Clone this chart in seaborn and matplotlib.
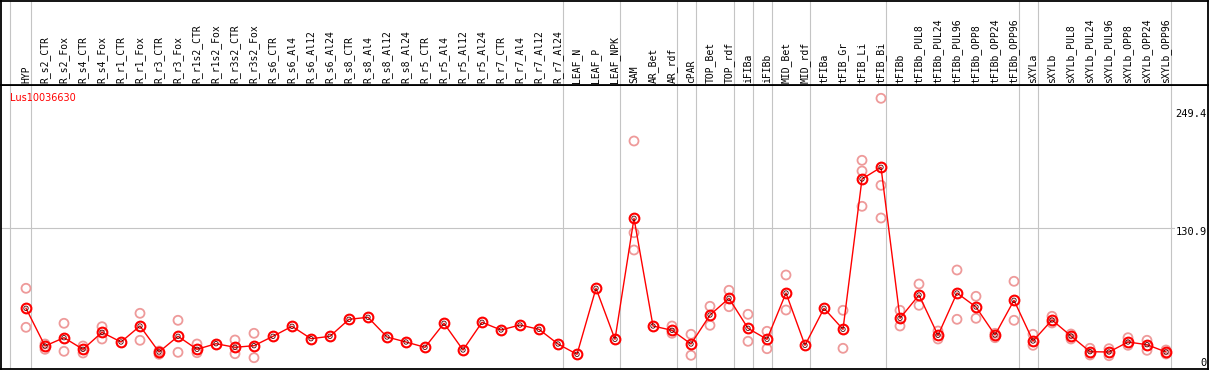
import numpy as np
import pandas as pd
import matplotlib
matplotlib.use("Agg")
import matplotlib.pyplot as plt
import seaborn as sns

categories = ["HYP", "R_s2_CTR", "R_s2_Fox", "R_s4_CTR", "R_s4_Fox", "R_r1_CTR", "R_r1_Fox",
              "R_r3_CTR", "R_r3_Fox", "R_r1s2_CTR", "R_r1s2_Fox", "R_r3s2_CTR", "R_r3s2_Fox",
              "R_s6_CTR", "R_s6_Al4", "R_s6_Al12", "R_s6_Al24", "R_s8_CTR", "R_s8_Al4",
              "R_s8_Al12", "R_s8_Al24", "R_r5_CTR", "R_r5_Al4", "R_r5_Al12", "R_r5_Al24",
              "R_r7_CTR", "R_r7_Al4", "R_r7_Al12", "R_r7_Al24", "LEAF_N", "LEAF_P", "LEAF_NPK",
              "SAM", "AR_Bet", "AR_rdf", "cPAR", "TOP_Bet", "TOP_rdf", "iFIBa", "iFIBb",
              "MID_Bet", "MID_rdf", "tFIBa", "tFIB_Gr", "tFIB_Li", "tFIB_Bi", "tFIBb",
              "tFIBb_PUL8", "tFIBb_PUL24", "tFIBb_PUL96", "tFIBb_OPP8", "tFIBb_OPP24",
              "tFIBb_OPP96", "sXYLa", "sXYLb", "sXYLb_PUL8", "sXYLb_PUL24", "sXYLb_PUL96",
              "sXYLb_OPP8", "sXYLb_OPP24", "sXYLb_OPP96"]

mean_values = [50.7, 13.0, 21.3, 9.7, 26.7, 17.0, 33.0, 7.0, 22.7, 9.7, 15.3, 11.7, 13.3,
               22.7, 32.7, 20.3, 22.7, 39.7, 41.7, 22.0, 17.0, 11.7, 35.7, 9.0, 36.7,
               29.0, 34.0, 29.7, 15.0, 4.7, 70.7, 19.7,
               140.7, 33.0, 28.7, 15.0, 44.0, 60.7, 30.7, 19.7,
               66.0, 13.7, 50.7, 29.7, 180.0, 191.7, 40.7,
               64.0, 23.7, 66.0, 52.0, 24.0, 58.7, 18.0, 39.0,
               23.0, 7.3, 7.0, 17.0, 14.3, 7.0]

nan = np.nan
rep_high = [70.7, 15.0, 35.7, 13.0, 32.3, nan, 45.7, 8.0, 38.7, 15.0, nan, 19.0, 25.7,
            nan, nan, nan, nan, nan, nan, nan, nan, nan, nan, nan, nan,
            nan, nan, nan, nan, nan, nan, nan,
            218.0, nan, 33.0, 24.7, 52.7, 68.7, 44.7, 27.7,
            84.0, nan, nan, 48.7, 198.7, 260.7, 48.7,
            75.0, 28.0, 89.0, 62.7, 25.7, 77.7, 24.7, 42.7,
            25.0, 10.7, 10.3, 21.3, 18.7, 9.0]
rep_low = [31.7, 9.7, 7.7, 6.0, 20.0, nan, 18.7, 4.7, 6.7, 6.3, nan, 5.3, 1.3,
           nan, nan, nan, nan, nan, nan, nan, nan, nan, nan, nan, nan,
           nan, nan, nan, nan, nan, nan, nan,
           109.0, nan, 25.7, 3.7, 33.7, 52.3, 17.7, 10.3,
           49.0, nan, nan, 10.7, 152.7, 141.0, 33.0,
           53.7, 20.0, 39.7, 40.7, 21.3, 38.7, 13.7, 36.0,
           20.0, 4.0, 3.3, 13.7, 8.7, 5.0]
rep_third = [nan] * 32 + [126.3] + [nan] * 11 + [188.0, 173.7] + [nan] * 15

group_ends = [0, 28, 31, 34, 35, 37, 38, 39, 41, 45, 52, 53, 60]
gene_name = "Lus10036630"
tick_values = [249.4, 130.9, 0]

n = len(categories)
xpos = np.arange(n)
df_mean = pd.DataFrame({"x": xpos, "value": mean_values})
df_rep = pd.DataFrame({
    "x": np.concatenate([xpos, xpos, xpos]),
    "value": np.concatenate([rep_high, rep_low, rep_third]),
}).dropna()

W, H = 1209, 370
fig = plt.figure(figsize=(W / 100, H / 100), dpi=100)


def rect(x0, y0, x1, y1):
    return [x0 / W, 1 - y1 / H, (x1 - x0) / W, (y1 - y0) / H]


ax = fig.add_axes(rect(0.5, 85, 1208, 368.5))
hax = fig.add_axes(rect(0.5, 0.5, 1208, 85))

xlim = ((0.5 - 26) / 19, (1208 - 26) / 19)
for a in (ax, hax):
    a.set_xlim(*xlim)
    a.set_xticks([])
    a.set_yticks([])
    a.set_facecolor("white")
    for s in a.spines.values():
        s.set_color("black")
        s.set_linewidth(1.3)
ax.set_ylim(-9.5, 274)
hax.set_ylim(0, 1)

sep_color = "#c4c4c4"
sep_x = [-0.84] + [g + 0.25 for g in group_ends]
for x in sep_x:
    ax.axvline(x, color=sep_color, lw=0.8, zorder=0)
    hax.axvline(x, color=sep_color, lw=0.8, zorder=0)
ax.axhline(tick_values[1], color=sep_color, lw=0.8, zorder=0)

sns.scatterplot(data=df_rep, x="x", y="value", ax=ax, marker="o", s=42,
                facecolor="none", edgecolor="#ee9a9a", linewidth=1.3, zorder=2, legend=False)
sns.lineplot(data=df_mean, x="x", y="value", ax=ax, color="red", lw=1.0, zorder=3,
             marker="o", markersize=7, markerfacecolor="none", markeredgecolor="red",
             markeredgewidth=1.5, legend=False)
sns.scatterplot(data=df_mean, x="x", y="value", ax=ax, marker="o", s=10,
                facecolor="none", edgecolor="#500000", linewidth=0.6, zorder=4, legend=False)
ax.set_xlabel("")
ax.set_ylabel("")
ax.set_xlim(*xlim)
ax.set_ylim(-9.5, 274)

for i, lab in enumerate(categories):
    hax.text(i, 0.025, lab, rotation=90, ha="center", va="bottom",
             fontsize=7, family="DejaVu Sans Mono", color="black")

ax.text(9.5 / 1207.5, 1 - 13 / 283.5, gene_name, transform=ax.transAxes,
        ha="left", va="center", fontsize=7, color="red", family="DejaVu Sans")

for v in tick_values:
    ax.text((1206.5 - 26) / 19, v + 1, f"{v:g}" if v == 0 else f"{v:.1f}",
            ha="right", va="top", fontsize=7.5, family="DejaVu Sans Mono", color="black",
            bbox=dict(facecolor="white", edgecolor="none", pad=0.3), zorder=5)

fig.savefig("out.png", dpi=100)
